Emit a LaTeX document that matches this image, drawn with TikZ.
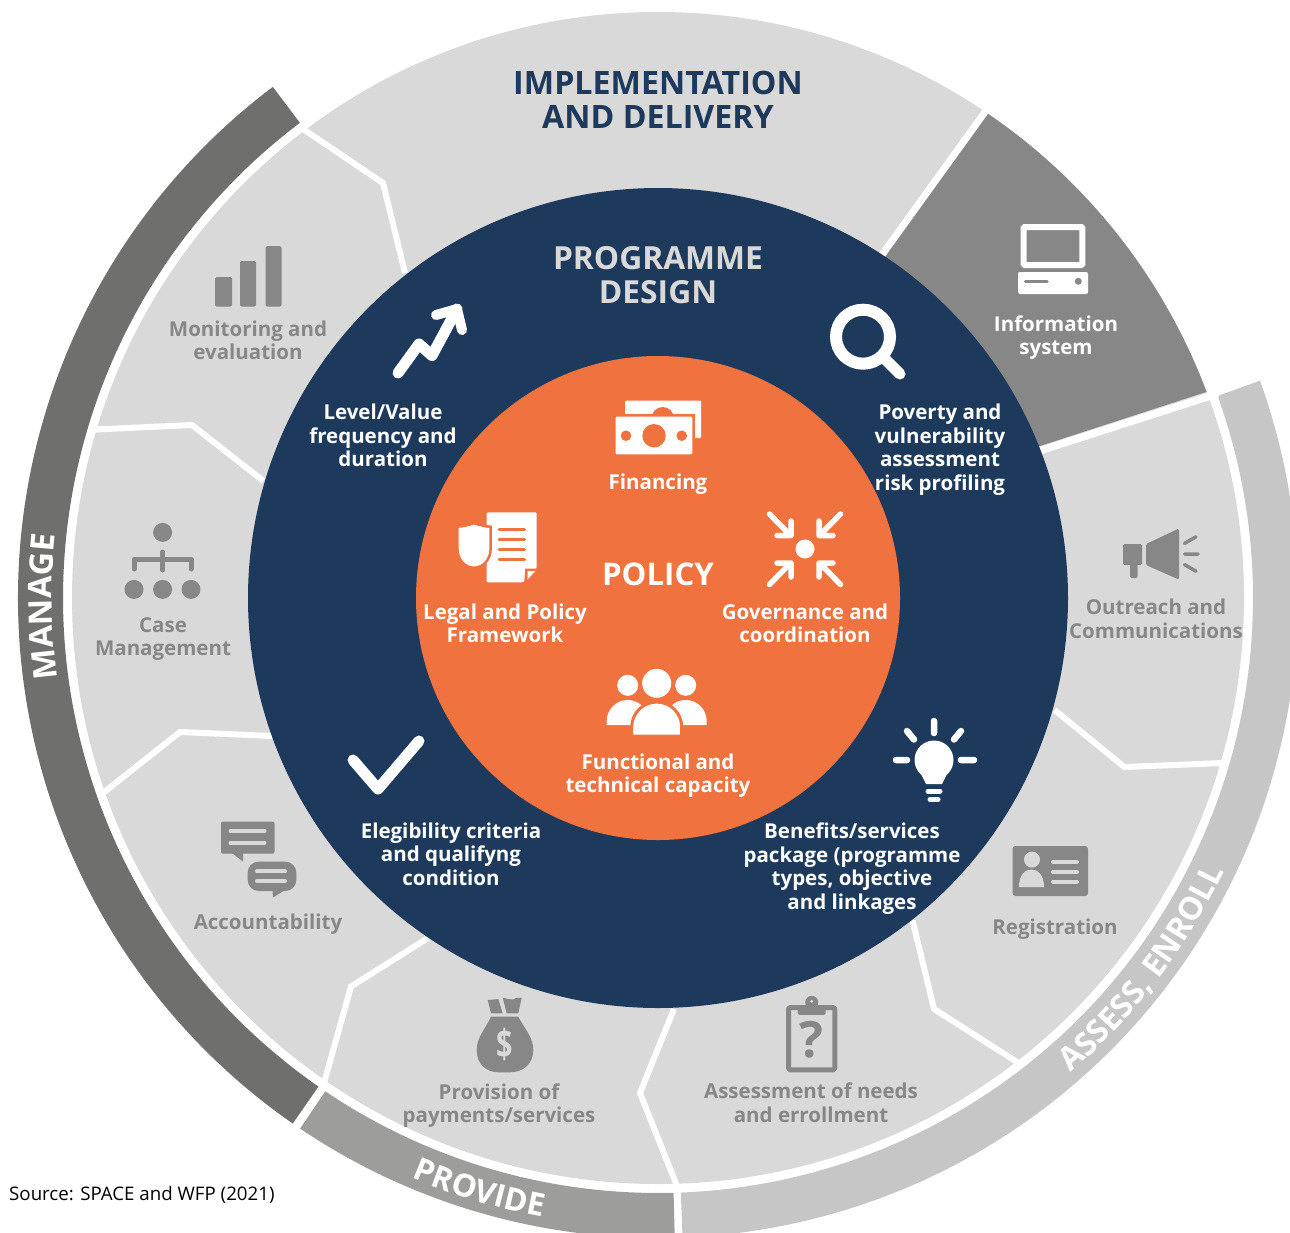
\documentclass[tikz,border=0pt]{standalone}
\usepackage{fontspec}
\setmainfont{Open Sans}
\usetikzlibrary{decorations.text}
\definecolor{navy}{HTML}{1D3A5C}
\definecolor{orangefill}{HTML}{F0723F}
\definecolor{lightseg}{HTML}{D9D9D9}
\definecolor{darkseg}{HTML}{878787}
\definecolor{manageband}{HTML}{6F6F6E}
\definecolor{provideband}{HTML}{9D9D9C}
\definecolor{assessband}{HTML}{C6C6C6}
\newcommand{\bandfontA}{\fontsize{32.5}{33}\selectfont\bfseries\color{white}}
\newcommand{\bandfontB}{\fontsize{31.6}{32}\selectfont\bfseries\color{white}}
\newcommand{\bandfontC}{\fontsize{32}{32}\selectfont\bfseries\color{white}}
\tikzset{
  lbl/.style={align=center,inner sep=0pt,font=\fontsize{20.5}{23.6}\selectfont\bfseries},
  wlbl/.style={lbl,text=white},
  glbl/.style={lbl,text=darkseg},
  title/.style={align=center,inner sep=0pt,font=\fontsize{32.2}{34}\selectfont\bfseries},
  sep/.style={draw=white,line width=6pt,line join=miter},
  wline/.style={draw=white,line cap=round,line join=round},
  gline/.style={draw=darkseg,line cap=round,line join=round},
  ofill/.style={fill=orangefill},
  wfill/.style={fill=white},
  gfill/.style={fill=darkseg}
}
\begin{document}
\begin{tikzpicture}[x=1pt,y=-1pt]
\useasboundingbox (0,0) rectangle (1290,1232);
\clip (0,0) rectangle (1290,1232);
\fill[white] (0,0) rectangle (1290,1232);

% rings (polar, y up, origin at the centre)
\begin{scope}[x=1pt,y=1pt,shift={(658pt,-598pt)}]
  \fill[manageband] (127:640pt) arc[start angle=127,end angle=235.2,radius=640pt] -- (235.2:595pt) arc[start angle=235.2,end angle=127,radius=595pt] -- cycle;
  \fill[provideband] (236:640pt) arc[start angle=236,end angle=271.5,radius=640pt] -- (271.5:595pt) arc[start angle=271.5,end angle=236,radius=595pt] -- cycle;
  \fill[assessband] (272.2:640pt) arc[start angle=272.2,end angle=379.85,radius=640pt] -- (379.85:595pt) arc[start angle=379.85,end angle=272.2,radius=595pt] -- cycle;
  \fill[lightseg] (0,0) circle[radius=586pt];
  \fill[darkseg] (55.8:586pt) arc[start angle=55.8,end angle=20.6,radius=586pt] -- (21.8:400pt) -- (56.8:400pt) -- cycle;
  \path[decorate,decoration={text along path,text align=center,text={|\bandfontA|MANAGE}}] (215:606pt) arc[start angle=215,end angle=146.6,radius=606pt];
  \path[decorate,decoration={text along path,text align=center,text={|\bandfontB|PROVIDE}}] (233.2:630pt) arc[start angle=233.2,end angle=273.2,radius=630pt];
  \path[decorate,decoration={text along path,text align=center,text={|\bandfontC|ASSESS{,} ENROLL}}] (-62.4:629pt) arc[start angle=-62.4,end angle=-12.4,radius=629pt];
\end{scope}

% white separators
\draw[sep,line width=7pt] (879,259) -- (990,105);
\draw[sep,line width=7.5pt] (1036,452) -- (1218,393.5);
\draw[sep] (303,129) -- (383,183) -- (405,273);
\draw[sep] (95,429.5) -- (192,425) -- (263.4,481);
\draw[sep] (103,793) -- (180,732) -- (272,736);
\draw[sep] (324,1083) -- (351,986.5) -- (428,938);
\draw[sep] (677,1186) -- (640,1093) -- (674,1009);
\draw[sep] (1017,1062) -- (934,1009) -- (912.5,920.5);
\draw[sep] (1223,763) -- (1124.4,767) -- (1054.5,710);

\fill[navy] (658,598) circle[radius=410];
\fill[orangefill] (658,598) circle[radius=242];

% titles
\node[title,text=navy] (impl) at (658,99.5) {IMPLEMENTATION\\AND DELIVERY};
\node[title,text=lightseg,font=\fontsize{31.8}{34}\selectfont\bfseries] (prog) at (658,275) {PROGRAMME\\DESIGN};
\node[title,text=white,font=\fontsize{31.2}{34}\selectfont\bfseries] (policy) at (658,574) {POLICY};

% white labels
\node[wlbl] (level) at (383,435.5) {Level/Value\\frequency and\\duration};
\node[wlbl] (poverty) at (940,449.5) {Poverty and\\vulnerability\\assessment\\risk profiling};
\node[wlbl] (fin) at (658,484) {Financing};
\node[wlbl] (legal) at (505,623.5) {Legal and Policy\\Framework};
\node[wlbl] (gov) at (805,623.5) {Governance and\\coordination};
\node[wlbl] (func) at (658,775.5) {Functional and\\technical capacity};
\node[wlbl] (elig) at (451,854) {Elegibility criteria\\and qualifyng\\condition};
\node[wlbl] (ben) at (852,868.5) {Benefits/services\\package (programme\\types, objective\\and linkages};
\node[wlbl] (info) at (1056,337.5) {Information\\system};

% grey labels
\node[glbl] (mon) at (248,340.5) {Monitoring and\\evaluation};
\node[glbl] (case) at (163,639) {Case\\Management};
\node[glbl] (acc) at (268,924) {Accountability};
\node[glbl] (prov) at (499,1105.5) {Provision of\\payments/services};
\node[glbl] (assess) at (811,1103) {Assessment of needs\\and errollment};
\node[glbl] (reg) at (1055,929) {Registration};
\node[glbl] (out) at (1156,619) {Outreach and\\Communications};
\node[anchor=west,inner sep=0pt,font=\fontsize{18.7}{22}\selectfont,text=black] (src) at (9,1195) {Source: SPACE and WFP (2021)};

% bars icon
\fill[gfill,rounded corners=1.5] (215,277) rectangle (232,306.5);
\fill[gfill,rounded corners=1.5] (240,261) rectangle (256,306.5);
\fill[gfill,rounded corners=1.5] (265.5,246) rectangle (281.5,306.5);

% org chart icon
\fill[gfill] (162.6,532.4) circle[radius=9.5];
\foreach \x in {134,162.6,191} \fill[gfill] (\x,589.4) circle[radius=9.5];
\draw[gline,line width=5] (134,569) -- (134,559) -- (191,559) -- (191,569);
\draw[gline,line width=5] (162.6,552) -- (162.6,570);

% accountability icon
\fill[gfill,rounded corners=2] (221,821.5) rectangle (274.5,853.7);
\fill[gfill] (232,853) -- (243,853) -- (243,861.6) -- cycle;
\draw[wline,draw=lightseg,line width=4] (230.5,831.3) -- (264.5,831.3) (230.5,842.7) -- (264.5,842.7);
\fill[gfill,rounded corners=11] (247.7,861.6) rectangle (296.3,891);
\fill[gfill] (272.5,890) -- (285,890) -- (273,897.5) -- cycle;
\draw[wline,draw=lightseg,line width=4] (257,871.4) -- (285,871.4) (257,881.2) -- (285,881.2);

% money bag icon
\fill[gfill] (487.7,1000) -- (498.3,999) -- (502.7,1013.3) -- (491,1013.3) -- cycle;
\fill[gfill] (502.7,997.7) -- (508,999) -- (513.3,999.5) -- (516,998) -- (521.7,997.7) -- (518.3,1013.3) -- (506.7,1013.3) -- cycle;
\fill[gfill] (491,1016.7) -- (518.3,1016.7) .. controls (524,1028) and (533.3,1037) .. (533.3,1050) .. controls (533.3,1064) and (523,1072.3) .. (510,1072.3) -- (499,1072.3) .. controls (486,1072.3) and (476.7,1064) .. (476.7,1050) .. controls (476.7,1037) and (486,1028) .. cycle;
\node[inner sep=0pt,text=lightseg,xscale=.72,font=\fontsize{40}{40}\selectfont\bfseries] (dollar) at (505,1044.5) {\$};

% clipboard icon
\draw[gline,line width=5,rounded corners=1.5] (788.5,1007.5) rectangle (834.8,1069.8);
\fill[gfill,rounded corners=2] (797.7,1005) rectangle (825.7,1014.8);
\fill[gfill] (811.7,1002.3) circle[radius=6.5];
\fill[lightseg] (811.7,1001.3) circle[radius=1.6];
\node[inner sep=0pt,text=darkseg,font=\fontsize{50}{50}\selectfont\bfseries] (qm) at (811.7,1040) {?};

% registration icon
\fill[gfill,rounded corners=3] (1012.5,846) rectangle (1088,896);
\fill[lightseg] (1032,859.6) circle[radius=8];
\fill[lightseg] (1019,887) .. controls (1019,875) and (1025,869.5) .. (1031.5,869.5) .. controls (1038,869.5) and (1044,875) .. (1044,887) -- cycle;
\draw[draw=lightseg,line cap=round,line width=4] (1053,862) -- (1077,862) (1053,872) -- (1077,872) (1053,881.5) -- (1077,881.5);

% megaphone icon
\fill[gfill,rounded corners=1.5] (1146,544) -- (1179,528.5) -- (1179,579.6) -- (1146,565) -- cycle;
\fill[gfill,rounded corners=1.5] (1123,544) rectangle (1142,565);
\fill[gfill,rounded corners=2] (1130,560) rectangle (1137.6,578);
\draw[gline,line width=3.5] (1184.5,543.4) -- (1196,536.8) (1184.5,554) -- (1198,554) (1184.5,564.6) -- (1196,571.3);

% computer icon
\draw[draw=white,line width=6,rounded corners=1] (1023.7,227) rectangle (1082.4,265);
\fill[wfill,rounded corners=2] (1018,272) rectangle (1088,294);
\draw[gline,line width=3.5] (1025.5,281.3) -- (1047,281.3);
\fill[gfill] (1078.3,281.3) circle[radius=3.5];

% magnifier icon
\draw[draw=white,line width=12] (863,336.7) circle[radius=27];
\draw[wline,line width=11] (885,359) -- (900,374);

% trend arrow icon
\draw[wline,line width=11] (398,373) -- (419,344) -- (432,355.6) -- (457,309);
\draw[wline,line width=10] (436,315) -- (457,309) -- (462,330);

% check icon
\draw[wline,line width=11] (353,760) -- (378,789) -- (419,741);

% bulb icon
\fill[wfill] (934,760) circle[radius=19.5];
\fill[wfill] (920,772) -- (926,784) -- (942,784) -- (948,772) -- cycle;
\draw[wline,line width=5] (928,791) -- (940,791) (930,799.5) -- (938,799.5);
\draw[wline,line width=6.5] (934,721) -- (934,733) (907,731) -- (914,739.5) (961,731) -- (954,739.5) (896,760) -- (907,760) (961,760) -- (974,760);

% financing icon
\fill[wfill,rounded corners=1] (625,400.7) rectangle (701,438);
\fill[ofill] (662.7,418) circle[radius=11];
\fill[ofill] (612.7,413.7) rectangle (695.3,457.3);
\fill[wfill,rounded corners=1] (615.7,416.7) rectangle (692.3,454.3);
\fill[ofill] (654,435.7) circle[radius=11.7];
\fill[ofill] (626,435.7) circle[radius=5.3];
\fill[ofill] (681.7,435.7) circle[radius=5.3];

% document and shield icon
\fill[wfill,rounded corners=1] (486.7,512.3) -- (536.7,512.3) -- (536.7,568) -- (523,582.3) -- (486.7,582.3) -- cycle;
\fill[ofill] (524.2,583) -- (525.2,568.5) -- (537.5,568.5) -- (537.5,583) -- cycle;
\fill[wfill] (527.5,571) -- (535.5,571) -- (527.5,579.5) -- cycle;
\draw[draw=orangefill,line cap=round,line width=3] (499,529.3) -- (524.5,529.3) (499,539.3) -- (524.5,539.3) (499,549.3) -- (524.5,549.3) (499,559.3) -- (524.5,559.3);
\path[wfill,draw=orangefill,line width=2.5] (474,523.3) .. controls (468,525) and (462,526.5) .. (457.3,526.7) -- (457.3,548) .. controls (457.3,560) and (465,567.7) .. (474,567.7) .. controls (483,567.7) and (490.7,560) .. (490.7,548) -- (490.7,526.7) .. controls (486,526.5) and (480,525) .. cycle;

% governance icon
\fill[wfill] (805,549) circle[radius=9.5];
\draw[wline,line width=5.5] (769.5,514) -- (790.5,535.5) (777,535.5) -- (791,535.5) -- (791,521);
\draw[wline,line width=5.5] (840.5,514) -- (819.5,535.5) (833,535.5) -- (819,535.5) -- (819,521);
\draw[wline,line width=5.5] (769.5,584.5) -- (790.5,563) (777,563) -- (791,563) -- (791,577);
\draw[wline,line width=5.5] (840.5,584.5) -- (819.5,563) (833,563) -- (819,563) -- (819,577);

% people icon
\fill[wfill] (656.7,683.3) circle[radius=14.5];
\fill[wfill] (627.7,685.3) circle[radius=10.5];
\fill[wfill] (685.7,685.3) circle[radius=10.5];
\fill[wfill] (606.7,725) -- (606.7,721) arc[start angle=180,end angle=360,x radius=21,y radius=21] -- (648.7,725) -- cycle;
\fill[wfill] (664.7,725) -- (664.7,721) arc[start angle=180,end angle=360,x radius=21,y radius=21] -- (706.7,725) -- cycle;
\path[wfill,draw=orangefill,line width=3] (631.7,736) -- (631.7,727) arc[start angle=180,end angle=360,x radius=25,y radius=25] -- (681.7,736) -- cycle;
\end{tikzpicture}
\end{document}
